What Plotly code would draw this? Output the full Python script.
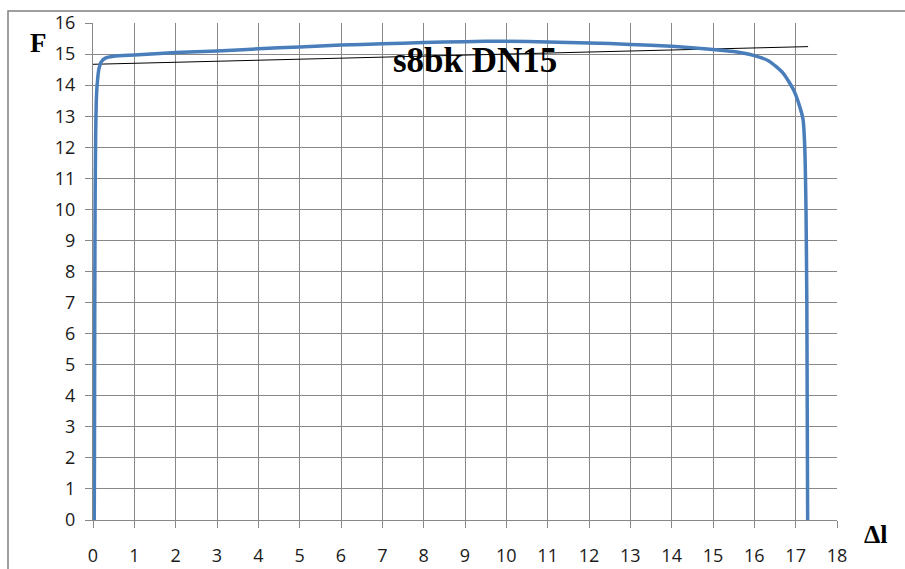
import plotly.graph_objects as go

# Force-elongation curve
dl = [0.03, 0.035, 0.04, 0.045, 0.05, 0.065, 0.08, 0.10, 0.14, 0.20, 0.30, 0.50,
      1.0, 2.0, 3.0, 4.0, 5.0, 6.0, 7.0, 8.0, 9.0, 9.5, 10.0, 11.0, 12.0, 13.0,
      14.0, 15.0, 15.5, 16.0, 16.35, 16.7, 16.95, 17.1, 17.18, 17.22, 17.25,
      17.27, 17.28, 17.29]
F = [0.0, 2.0, 5.0, 8.0, 10.0, 12.5, 13.5, 14.0, 14.5, 14.75, 14.87, 14.93,
     14.97, 15.05, 15.1, 15.17, 15.23, 15.29, 15.33, 15.37, 15.4, 15.41, 15.41,
     15.39, 15.36, 15.31, 15.25, 15.15, 15.08, 14.95, 14.78, 14.38, 13.84,
     13.3, 12.88, 12.0, 10.0, 7.0, 3.5, 0.0]

# Thin black reference line
ref_x = [0.0, 17.3]
ref_y = [14.67, 15.24]

x_ticks = list(range(0, 19))
y_ticks = list(range(0, 17))

title_text = "s8bk DN15"
y_label = "F"
x_label = "Δl"

# pixel geometry
L, R, T, B = 93, 837, 23, 520
W, H = 905, 569


def px(X):
    return (X - L) / (R - L)


def py(Y):
    return (B - Y) / (B - T)


fig = go.Figure()
fig.add_trace(go.Scatter(x=ref_x, y=ref_y, mode="lines",
                         line=dict(color="black", width=1), showlegend=False,
                         hoverinfo="skip"))
fig.add_trace(go.Scatter(x=dl, y=F, mode="lines",
                         line=dict(color="#4A7EBB", width=3.5, shape="spline", smoothing=0.6),
                         showlegend=False))

grid = "#888888"
fig.update_layout(
    width=W, height=H,
    margin=dict(l=L, r=W - R, t=T, b=H - B, autoexpand=False),
    paper_bgcolor="white", plot_bgcolor="white",
    font=dict(family="Open Sans", size=18, color="#1a1a1a"),
    xaxis=dict(range=[0, 18], tickvals=x_ticks, ticktext=[str(v) for v in x_ticks],
               showgrid=True, gridcolor=grid, gridwidth=1,
               showline=True, linecolor=grid, linewidth=1, mirror=False,
               ticks="outside", ticklen=7, tickcolor=grid, ticklabelstandoff=12,
               zeroline=False, fixedrange=True, automargin=False),
    yaxis=dict(range=[0, 16], tickvals=y_ticks, ticktext=[str(v) for v in y_ticks],
               showgrid=True, gridcolor=grid, gridwidth=1,
               showline=True, linecolor=grid, linewidth=1,
               ticks="outside", ticklen=7, tickcolor=grid, ticklabelstandoff=6,
               zeroline=False, fixedrange=True, automargin=False),
    shapes=[dict(type="rect", xref="paper", yref="paper",
                 x0=px(8), x1=px(960), y0=py(11), y1=py(620),
                 line=dict(color="#808080", width=1.5), layer="below")],
    annotations=[
        dict(text=title_text, xref="paper", yref="paper", x=px(475), y=py(61),
             showarrow=False, xanchor="center", yanchor="middle",
             font=dict(family="Liberation Serif", size=35, color="black", weight="bold")),
        dict(text=y_label, xref="paper", yref="paper", x=px(38), y=py(43),
             showarrow=False, xanchor="center", yanchor="middle",
             font=dict(family="Liberation Serif", size=27, color="black", weight="bold")),
        dict(text=x_label, xref="paper", yref="paper", x=px(876), y=py(534),
             showarrow=False, xanchor="center", yanchor="middle",
             font=dict(family="Liberation Serif", size=26, color="black", weight="bold")),
    ],
)

fig.write_html("out.html")
